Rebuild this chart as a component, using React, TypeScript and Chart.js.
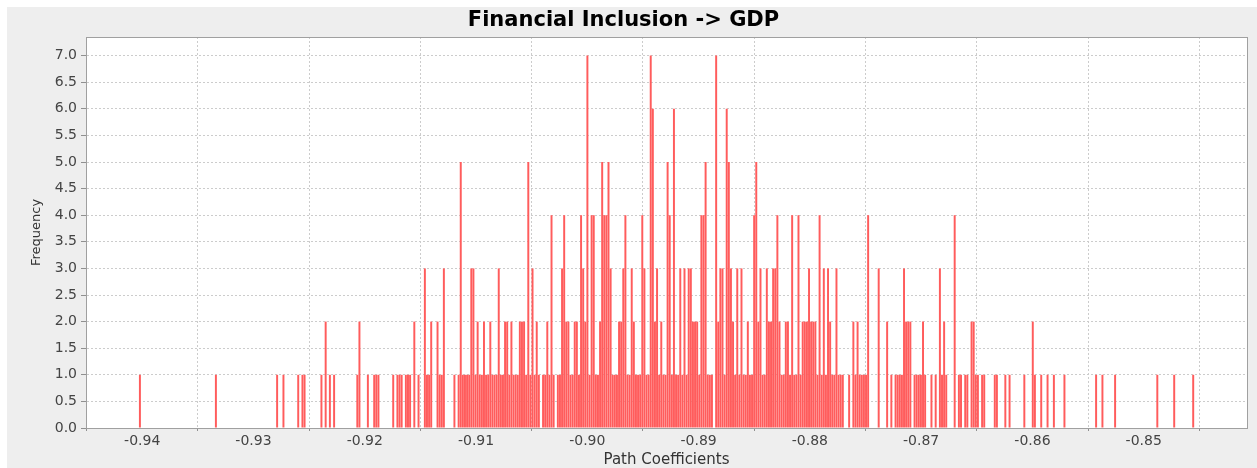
import React, { useEffect, useRef } from "react";
import { Chart, registerables } from "chart.js";

Chart.register(...registerables);

const chartTitle = "Financial Inclusion -> GDP";
const xAxisTitle = "Path Coefficients";
const yAxisTitle = "Frequency";

// histogram bins (500 equal bins between the smallest and largest coefficient)
const coefMin = -0.9403;
const coefMax = -0.84546;
const binCount = 500;

// frequency per bin (rows of 50 bins)
const frequency = [
  1,0,0,0,0,0,0,0,0,0, 0,0,0,0,0,0,0,0,0,0, 0,0,0,0,0,0,0,0,0,0, 0,0,0,0,0,0,1,0,0,0, 0,0,0,0,0,0,0,0,0,0,
  0,0,0,0,0,0,0,0,0,0, 0,0,0,0,0,1,0,0,1,0, 0,0,0,0,0,1,0,1,1,0, 0,0,0,0,0,0,1,0,2,0, 1,0,1,0,0,0,0,0,0,0,
  0,0,0,1,2,0,0,0,1,0, 0,1,1,1,0,0,0,0,0,0, 1,0,1,1,1,0,1,1,1,0, 2,0,1,0,0,3,1,1,2,0, 0,2,1,1,3,0,0,0,0,1,
  0,1,5,1,1,1,1,3,3,1, 2,1,1,2,1,1,2,1,1,1, 3,1,1,2,2,1,2,1,1,1, 2,2,2,1,5,1,3,1,2,1, 0,1,1,2,1,4,1,0,1,1,
  3,4,2,2,1,1,2,2,1,4, 3,2,7,1,4,4,1,1,2,5, 4,4,5,3,1,1,1,2,2,3, 4,1,1,3,2,1,1,1,4,3, 1,1,7,6,2,3,1,2,1,1,
  5,4,1,6,1,1,3,1,3,1, 3,3,2,2,2,1,4,4,5,1, 1,1,0,7,2,3,3,1,6,5, 3,2,1,3,1,3,1,1,2,1, 1,4,5,2,3,1,1,3,2,2,
  3,3,4,2,1,1,2,2,1,4, 1,1,4,1,2,2,2,3,2,2, 2,1,4,1,3,1,3,2,1,1, 3,1,1,1,0,0,1,0,2,1, 2,1,1,1,1,4,0,0,0,0,
  3,0,0,0,2,0,1,0,1,1, 1,1,3,2,2,2,0,1,1,1, 1,2,1,0,0,1,0,1,0,3, 1,2,1,0,0,0,4,0,1,1, 0,1,1,0,2,2,1,1,0,1,
  1,0,0,0,0,1,1,0,0,0, 1,0,1,0,0,0,0,0,0,1, 0,0,0,2,1,0,0,1,0,0, 1,0,0,1,0,0,0,0,1,0, 0,0,0,0,0,0,0,0,0,0,
  0,0,0,1,0,0,1,0,0,0, 0,0,1,0,0,0,0,0,0,0, 0,0,0,0,0,0,0,0,0,0, 0,0,1,0,0,0,0,0,0,0, 1,0,0,0,0,0,0,0,0,1,
];

// axis ranges and tick steps
const xMin = -0.94505;
const xMax = -0.84072;
const xStep = 0.01;
const yMin = 0;
const yMax = 7.35;
const yStep = 0.5;

const tickFont = { family: "DejaVu Sans", size: 14 };

const backgroundPlugin = {
  id: "bgPlugin",
  beforeDraw(chart: any) {
    const { ctx, width, height, chartArea } = chart;
    ctx.save();
    ctx.fillStyle = "#ffffff";
    ctx.fillRect(0, 0, width, height);
    ctx.fillStyle = "#eeeeee";
    ctx.fillRect(7, 7, width - 7, height - 7);
    ctx.fillStyle = "#ffffff";
    ctx.fillRect(chartArea.left, chartArea.top, chartArea.right - chartArea.left, chartArea.bottom - chartArea.top);
    ctx.restore();
  },
  afterDatasetsDraw(chart: any) {
    const { ctx, chartArea } = chart;
    ctx.save();
    ctx.strokeStyle = "#a0a0a0";
    ctx.lineWidth = 1;
    ctx.strokeRect(
      Math.round(chartArea.left) + 0.5,
      Math.round(chartArea.top) + 0.5,
      Math.round(chartArea.right - chartArea.left),
      Math.round(chartArea.bottom - chartArea.top)
    );
    ctx.restore();
  },
};

export default function App() {
  const canvasRef = useRef<HTMLCanvasElement>(null);

  useEffect(() => {
    const canvas = canvasRef.current;
    if (!canvas) return;
    const binWidth = (coefMax - coefMin) / binCount;
    const points = frequency.map((f, i) => ({ x: coefMin + (i + 0.5) * binWidth, y: f }));

    const chart = new Chart(canvas, {
      type: "bar",
      data: {
        datasets: [
          {
            data: points as any,
            backgroundColor: "rgb(255, 92, 92)",
            borderWidth: 0,
            barPercentage: 0.93,
            categoryPercentage: 1,
          },
        ],
      },
      options: {
        responsive: false,
        animation: false,
        devicePixelRatio: 1,
        layout: { padding: { left: 0, right: 10, top: 0, bottom: 0 } },
        plugins: {
          legend: { display: false },
          tooltip: { enabled: false },
          title: {
            display: true,
            text: chartTitle,
            color: "#000000",
            font: { family: "DejaVu Sans", size: 21, weight: "bold", lineHeight: 1.2 },
            padding: { top: 8, bottom: 3.8 },
          },
        },
        scales: {
          x: {
            type: "linear",
            min: xMin,
            max: xMax,
            offset: false,
            ticks: {
              stepSize: xStep,
              includeBounds: false,
              autoSkip: false,
              maxRotation: 0,
              minRotation: 0,
              padding: 2,
              color: "#444444",
              font: tickFont,
              callback: (v: any) => Number(v).toFixed(2),
            },
            grid: { color: "#cccccc", lineWidth: 1, tickLength: 3, tickColor: "#909090", drawTicks: true },
            border: { display: true, color: "#a0a0a0", width: 1, dash: [2, 2] },
            title: {
              display: true,
              text: xAxisTitle,
              color: "#333333",
              font: { family: "DejaVu Sans", size: 15, lineHeight: 1 },
              padding: { top: 0, bottom: 0 },
            },
            afterFit: (s: any) => {
              s.height = 40;
            },
          },
          y: {
            type: "linear",
            min: yMin,
            max: yMax,
            ticks: {
              stepSize: yStep,
              includeBounds: false,
              padding: 4,
              color: "#444444",
              font: tickFont,
              callback: (v: any) => Number(v).toFixed(1),
            },
            grid: { color: "#cccccc", lineWidth: 1, tickLength: 5, tickColor: "#909090", drawTicks: true },
            border: { display: true, color: "#a0a0a0", width: 1, dash: [2, 2] },
            title: {
              display: true,
              text: yAxisTitle,
              color: "#333333",
              font: { family: "DejaVu Sans", size: 13, lineHeight: 1 },
              padding: { top: 30.5, bottom: 0 },
            },
            afterFit: (s: any) => {
              s.width = 86;
            },
          },
        },
      } as any,
      plugins: [backgroundPlugin],
    });

    return () => chart.destroy();
  }, []);

  return (
    <div style={{ position: "fixed", left: 0, top: 0, width: 1257, height: 468 }}>
      <canvas ref={canvasRef} width={1257} height={468} style={{ display: "block", width: 1257, height: 468 }} />
    </div>
  );
}
